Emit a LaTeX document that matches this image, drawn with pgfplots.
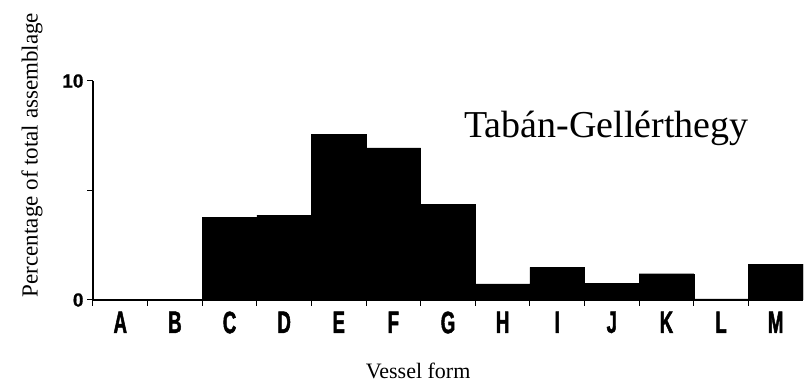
\documentclass[border=0pt]{standalone}
\usepackage{fontspec}
\setmainfont{Liberation Serif}
\newfontfamily\catfont{Liberation Sans}[FakeStretch=0.6, FakeBold=1.5]
\newfontfamily\numfont{Liberation Sans}[FakeBold=0.8]
\usepackage{pgfplots}
\pgfplotsset{compat=1.18}

% share of each vessel form (percent)
\pgfplotstableread{
x    pct
0.5  0
1.5  0
2.5  3.76
3.5  3.88
4.5  7.57
5.5  6.95
6.5  4.38
7.5  0.74
8.5  1.49
9.5  0.76
10.5 1.20
11.5 0.05
12.5 1.64
}\vessels
\usepackage{pgfplotstable}

\begin{document}
\begin{tikzpicture}
\useasboundingbox (0,0) rectangle (807pt,388pt);
\begin{axis}[
    at={(93pt,88pt)}, anchor=south west,
    scale only axis, width=710pt, height=219pt,
    xmin=0, xmax=13, ymin=0, ymax=10,
    axis x line=bottom, axis y line=left,
    axis line style={-, line width=1.3pt},
    tick align=outside, major tick length=6pt,
    tick style={black, line width=1pt},
    xtick={0,...,12},
    xticklabels={A,B,C,D,E,F,G,H,I,J,K,L,M},
    x tick label style={font=\catfont\bfseries\fontsize{31}{31}\selectfont,
        anchor=north, xshift=27.3pt, yshift=-2pt},
    ytick={0,5,10},
    yticklabels={0,,10},
    y tick label style={font=\numfont\bfseries\fontsize{19}{19}\selectfont},
    xlabel={Vessel form},
    xlabel style={font=\fontsize{22}{22}\selectfont, at={(rel axis cs:0.458,0)},
        anchor=center, yshift=-71pt},
    ylabel={Percentage of total assemblage},
    ylabel style={font=\fontsize{23}{23}\selectfont, at={(rel axis cs:0,0.662)},
        anchor=center, yshift=61pt},
]
\addplot[ybar, bar width=1, bar shift=0, fill=black, draw=black]
    table[x=x, y=pct] {\vessels};
\node[anchor=base, font=\fontsize{38}{38}\selectfont]
    at (axis cs:9.4,7.44) {Tabán-Gellérthegy};
\end{axis}
\end{tikzpicture}
\end{document}
